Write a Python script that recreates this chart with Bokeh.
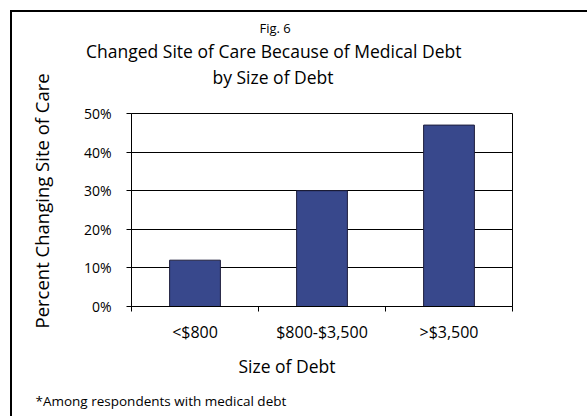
from bokeh.plotting import figure
from bokeh.models import Range1d, FixedTicker, Title
from bokeh.embed import file_html
from bokeh.resources import INLINE

categories = ["<$800", "$800-$3,500", ">$3,500"]
values = [12, 30, 47]
y_ticks = [0, 10, 20, 30, 40, 50]
y_tick_labels = ["0%", "10%", "20%", "30%", "40%", "50%"]

FONT = "Open Sans"
W, H = 587, 416
xs = [i + 0.5 for i in range(len(categories))]

p = figure(width=W, height=H, output_backend="svg", toolbar_location=None,
           x_range=Range1d(0, len(categories)), y_range=Range1d(0, 50),
           min_border_left=130, min_border_right=W - 512, min_border_top=113, min_border_bottom=H - 306)
p.background_fill_color = "white"
p.border_fill_color = None
p.outline_line_color = "black"
p.outline_line_width = 1
p.styles = {
    "background-color": "white",
    "background-image": "linear-gradient(black, black), linear-gradient(black, black)",
    "background-size": "2px 100%, 100% 2px",
    "background-position": "10px 10px, 10px 10px",
    "background-repeat": "no-repeat",
}

p.vbar(x=xs, top=values, width=0.4, fill_color="#38488C", line_color="#1E1E3C", line_width=1)

# y axis
p.yaxis.ticker = FixedTicker(ticks=y_ticks)
p.yaxis.major_label_overrides = {t: l for t, l in zip(y_ticks, y_tick_labels)}
p.yaxis.major_tick_out = 5
p.yaxis.major_tick_in = 0
p.yaxis.minor_tick_line_color = None
p.yaxis.axis_line_color = "black"
p.yaxis.major_tick_line_color = "black"
p.yaxis.major_label_text_font = FONT
p.yaxis.major_label_text_font_size = "14px"
p.yaxis.major_label_text_color = "black"
p.yaxis.major_label_standoff = 15

# x axis: labels at centres, ticks at boundaries (minor)
p.xaxis.ticker = FixedTicker(ticks=xs, minor_ticks=list(range(len(categories) + 1)))
p.xaxis.major_label_overrides = {x: c for x, c in zip(xs, categories)}
p.xaxis.major_tick_line_color = None
p.xaxis.minor_tick_line_color = "black"
p.xaxis.minor_tick_out = 5
p.xaxis.minor_tick_in = 0
p.xaxis.axis_line_color = "black"
p.xaxis.major_label_text_font = FONT
p.xaxis.major_label_text_font_size = "16px"
p.xaxis.major_label_text_color = "black"
p.xaxis.major_label_standoff = 8

p.xgrid.grid_line_color = None
p.ygrid.grid_line_color = "black"
p.ygrid.grid_line_width = 1

def title(text, size, offset, standoff):
    return Title(text=text, text_font=FONT, text_font_size=size, text_font_style="normal",
                 text_color="black", align="left", offset=offset, standoff=standoff)

# above: first added sits closest to the frame
p.add_layout(title("\u00a0", "1px", 0, 21.6), "above")
p.add_layout(title("by Size of Debt", "17.5px", 81, 0), "above")
p.add_layout(title("Changed Site of Care Because of Medical Debt", "17.5px", -45.5, 0), "above")
p.add_layout(title("Fig. 6", "13px", 128, 0), "above")

# left: y axis title beyond the tick labels
p.add_layout(title("Percent Changing Site of Care", "18.5px", -22, 53), "left")

# below: after the axis
p.add_layout(title("Size of Debt", "17.5px", 107, 12), "below")
p.add_layout(title("*Among respondents with medical debt", "13.5px", -96, 12), "below")

open("out.html", "w").write(file_html(p, INLINE))
